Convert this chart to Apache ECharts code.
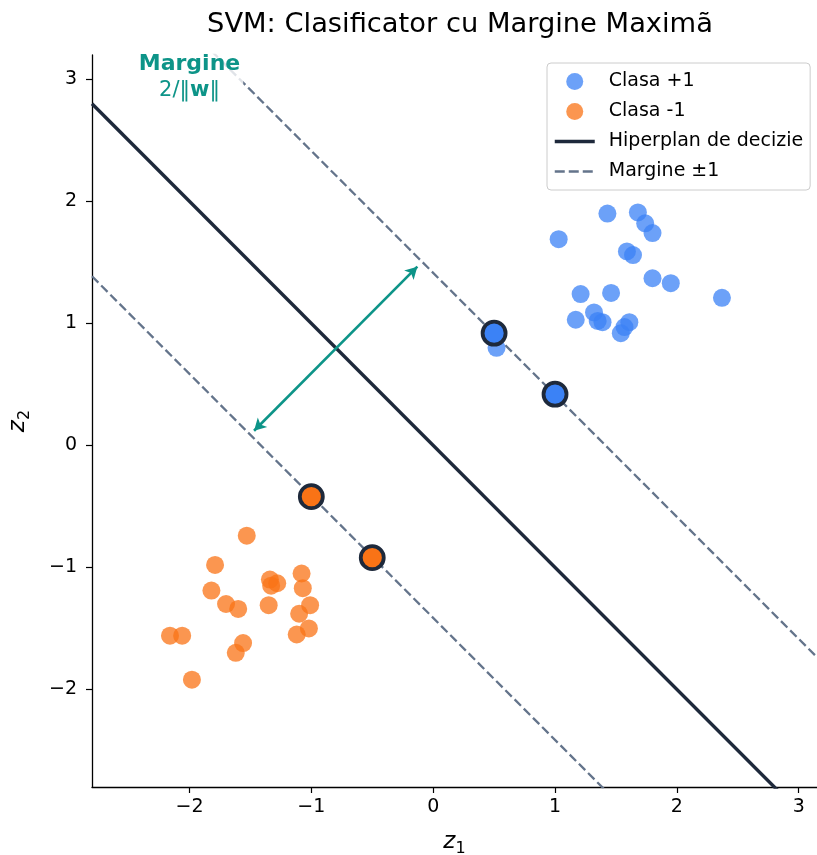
<!DOCTYPE html>
<html>
<head>
<meta charset="utf-8">
<script src="https://cdn.jsdelivr.net/npm/echarts@6/dist/echarts.min.js"></script>
<style>html,body{margin:0;padding:0;background:#fff}#c{width:817px;height:855px}</style>
</head>
<body>
<div id="c"></div>
<script>
// ---- data ----
var blueX = [1.43,1.68,1.74,1.80,1.03,1.59,1.64,1.80,1.95,2.37,1.21,1.46,1.32,1.17,1.35,1.39,1.61,1.57,1.54,0.52];
var blueY = [1.90,1.91,1.82,1.74,1.69,1.59,1.56,1.37,1.33,1.21,1.24,1.25,1.09,1.03,1.02,1.01,1.01,0.97,0.92,0.80];
var orangeX = [-1.53,-1.79,-1.82,-1.70,-1.60,-1.34,-1.28,-1.33,-1.35,-1.08,-1.07,-1.01,-1.10,-1.02,-1.12,-2.16,-2.06,-1.56,-1.62,-1.98];
var orangeY = [-0.74,-0.98,-1.19,-1.30,-1.34,-1.10,-1.13,-1.15,-1.31,-1.05,-1.17,-1.31,-1.38,-1.50,-1.55,-1.56,-1.56,-1.62,-1.70,-1.92];
var svPosX = [0.5, 1.0];
var svPosY = [0.92, 0.42];
var svNegX = [-1.0, -0.5];
var svNegY = [-0.42, -0.92];
var marginOffset = 1.414;          // margin lines: z2 = -z1 ± c
var arrowStart = [-1.47, 0.12];
var arrowEnd = [-0.13, 1.465];
var annotPos = [-2.0, 3.015];
var tickVals = [-2, -1, 0, 1, 2, 3];
var xRange = [-2.8, 3.15];
var yRange = [-2.8, 3.2];

function zip(a, b) { return a.map(function (v, i) { return [v, b[i]]; }); }
function lineThrough(c) { return [[xRange[0], -xRange[0] + c], [xRange[1], -xRange[1] + c]]; }

var FONT = 'DejaVu Sans';
var BLUE = '#3b82f6', ORANGE = '#f97316', DARK = '#1e293b', SLATE = '#64748b', TEAL = '#0d9488';
var DASH = [9, 4];

var chart = echarts.init(document.getElementById('c'), null, {renderer: 'canvas'});
function fmt(v) { return String(v).replace('-', '\u2212'); }

var option = {
  backgroundColor: '#fff',
  animation: false,
  title: {
    text: 'SVM: Clasificator cu Margine Maximã',
    left: 455, textAlign: 'center', top: 6,
    textStyle: {fontFamily: FONT, fontSize: 27.3, fontWeight: 'normal', color: '#000'}
  },
  legend: {
    data: [
      {name: 'Clasa +1'},
      {name: 'Clasa -1'},
      {name: 'Hiperplan de decizie', itemStyle: {opacity: 0}, lineStyle: {width: 3.5, color: DARK}},
      {name: 'Margine ±1', itemStyle: {opacity: 0}, lineStyle: {width: 2.4, color: SLATE, type: [10, 4]}}
    ],
    orient: 'vertical', left: 547, top: 63,
    padding: [9, 7, 9, 6],
    itemWidth: 40, itemHeight: 17, itemGap: 11,
    backgroundColor: '#fff', borderColor: '#cccccc', borderWidth: 1, borderRadius: 4,
    textStyle: {fontFamily: FONT, fontSize: 19, color: '#000', padding: [0, 0, 0, 9]}
  },
  grid: {left: 92, right: 0, top: 55, bottom: 68, containLabel: false, outerBoundsMode: 'none'},
  xAxis: {
    type: 'value', min: xRange[0], max: xRange[1],
    name: '{i|z}{s|1}', nameLocation: 'middle', nameGap: 40,
    nameTextStyle: {rich: {
      i: {fontFamily: FONT, fontStyle: 'italic', fontSize: 23, color: '#000'},
      s: {fontFamily: FONT, fontSize: 16, color: '#000', padding: [14, 0, 0, 0]}
    }},
    axisLine: {show: true, onZero: false, lineStyle: {color: '#000', width: 1.3}},
    axisTick: {show: true, length: 6, customValues: tickVals, lineStyle: {color: '#000', width: 1.2}},
    axisLabel: {customValues: tickVals, formatter: fmt, fontFamily: FONT, fontSize: 19, color: '#000', margin: 11},
    splitLine: {show: false}
  },
  yAxis: {
    type: 'value', min: yRange[0], max: yRange[1],
    name: '{i|z}{s|2}', nameLocation: 'middle', nameGap: 59, nameRotate: 90,
    nameTextStyle: {rich: {
      i: {fontFamily: FONT, fontStyle: 'italic', fontSize: 23, color: '#000'},
      s: {fontFamily: FONT, fontSize: 16, color: '#000', padding: [14, 0, 0, 0]}
    }},
    axisLine: {show: true, onZero: false, lineStyle: {color: '#000', width: 1.3}},
    axisTick: {show: true, length: 6, customValues: tickVals, lineStyle: {color: '#000', width: 1.2}},
    axisLabel: {customValues: tickVals, formatter: fmt, fontFamily: FONT, fontSize: 19, color: '#000', margin: 15},
    splitLine: {show: false}
  },
  series: [
    {
      name: 'Hiperplan de decizie', type: 'line', data: lineThrough(0),
      symbol: 'none', clip: true, z: 2,
      lineStyle: {color: DARK, width: 3.4},
      itemStyle: {color: DARK}
    },
    {
      name: 'Margine ±1', type: 'line', data: lineThrough(marginOffset),
      symbol: 'none', clip: true, z: 2,
      lineStyle: {color: SLATE, width: 2.3, type: DASH},
      itemStyle: {color: SLATE}
    },
    {
      name: 'Margine ±1', type: 'line', data: lineThrough(-marginOffset),
      symbol: 'none', clip: true, z: 2,
      lineStyle: {color: SLATE, width: 2.3, type: DASH},
      itemStyle: {color: SLATE}
    },
    {
      name: 'Clasa +1', type: 'scatter', data: zip(blueX, blueY), symbolSize: 18, z: 3,
      itemStyle: {color: BLUE, opacity: 0.75}
    },
    {
      name: 'Clasa -1', type: 'scatter', data: zip(orangeX, orangeY), symbolSize: 18, z: 3,
      itemStyle: {color: ORANGE, opacity: 0.75}
    },
    {
      name: 'sv+', type: 'scatter', data: zip(svPosX, svPosY), symbolSize: 23, z: 4,
      itemStyle: {color: BLUE, borderColor: DARK, borderWidth: 3.8, opacity: 1}
    },
    {
      name: 'sv-', type: 'scatter', data: zip(svNegX, svNegY), symbolSize: 23, z: 4,
      itemStyle: {color: ORANGE, borderColor: DARK, borderWidth: 3.8, opacity: 1}
    },
    {
      name: 'arrow', type: 'line', data: [], z: 5,
      markLine: {
        silent: true, symbol: ['arrow', 'arrow'], symbolSize: [10, 12],
        label: {show: false},
        lineStyle: {color: TEAL, width: 2.6, type: 'solid', opacity: 1},
        data: [[{coord: arrowStart}, {coord: arrowEnd}]]
      }
    },
    {
      name: 'annot', type: 'scatter', data: [annotPos], symbolSize: 0, z: 6,
      itemStyle: {opacity: 1},
      label: {
        show: true, position: 'inside', opacity: 1,
        formatter: '{b|Margine}\n{n|2/‖}{w|w}{n|‖}',
        backgroundColor: 'rgba(255,255,255,0.8)', padding: [0, 3],
        align: 'center', verticalAlign: 'middle',
        rich: {
          b: {fontFamily: FONT, fontSize: 22, fontWeight: 'bold', color: TEAL, lineHeight: 26, align: 'center'},
          n: {fontFamily: FONT, fontSize: 21, color: TEAL, lineHeight: 26},
          w: {fontFamily: FONT, fontSize: 21, fontWeight: 'bold', color: TEAL, lineHeight: 26}
        }
      }
    }
  ]
};
chart.setOption(option);
</script>
</body>
</html>
